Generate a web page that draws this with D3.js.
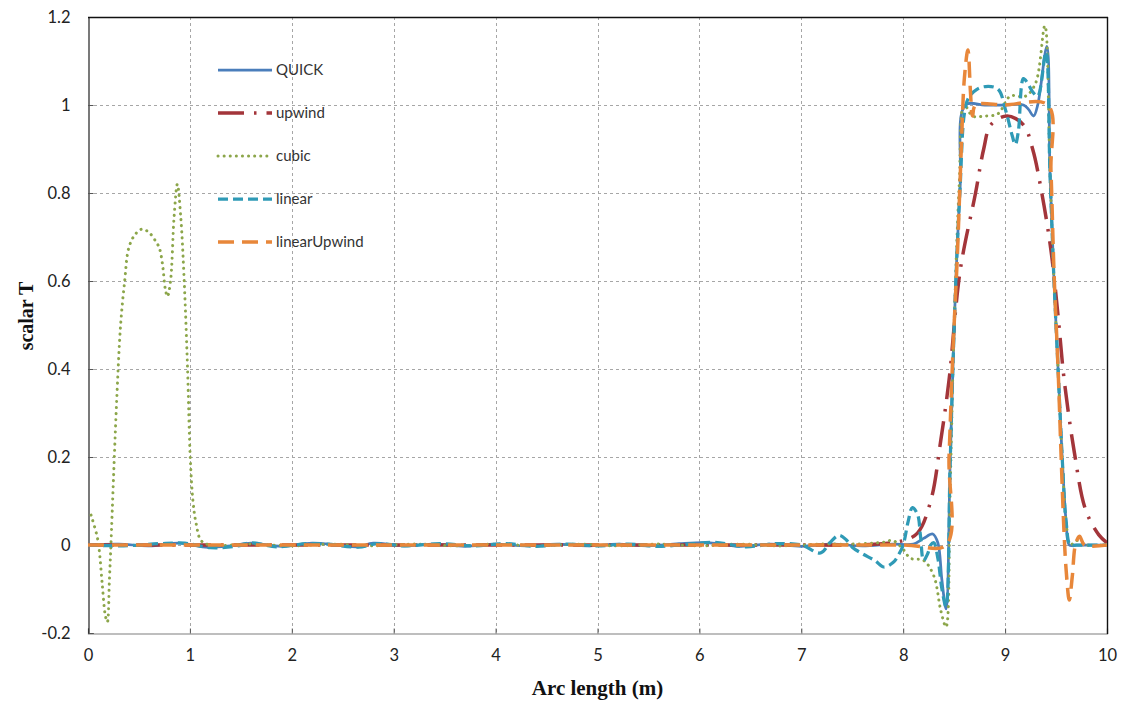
<!DOCTYPE html>
<html>
<head>
<meta charset="utf-8">
<script src="https://cdn.jsdelivr.net/npm/d3@7"></script>
<style>
  html, body { margin: 0; padding: 0; background: #fff; }
  svg { display: block; }
</style>
</head>
<body>
<svg id="chart" width="1126" height="706"></svg>
<script>
// ---- data ----
const xTicks = [0, 1, 2, 3, 4, 5, 6, 7, 8, 9, 10];
const yTicks = [-0.2, 0, 0.2, 0.4, 0.6, 0.8, 1, 1.2];
const yTickLabels = ["-0.2", "0", "0.2", "0.4", "0.6", "0.8", "1", "1.2"];
const seriesNames = ["QUICK", "upwind", "cubic", "linear", "linearUpwind"];

const quick = [
  [0,0],[0.3,0.002],[0.6,-0.002],[0.9,0.004],[1.15,-0.005],[1.4,-0.002],[1.6,0.004],[1.9,-0.003],
  [2.2,0.004],[2.45,0],[2.65,-0.004],[2.8,0.004],[3.1,-0.002],[3.4,0.002],[3.7,-0.003],[4.0,0.002],
  [4.3,-0.002],[4.6,0.002],[4.9,-0.002],[5.2,0.002],[5.5,-0.002],[5.8,0.003],[6.1,0.005],[6.4,-0.003],
  [6.7,0.002],[7.0,-0.003],[7.3,0.002],[7.6,-0.002],[7.9,0.002],[8.1,0.002],[8.2,0.015],[8.29,0.025],
  [8.34,0.005],[8.38,-0.08],[8.42,-0.145],[8.46,0.18],[8.49,0.42],[8.52,0.62],[8.56,0.82],[8.61,1.0],
  [8.8,1.0],[9.0,1.0],[9.18,1.0],[9.23,0.99],[9.28,0.975],[9.32,1.0],[9.41,1.133],[9.44,0.85],
  [9.48,0.6],[9.52,0.4],[9.56,0.2],[9.6,0.05],[9.63,0.0],[9.7,0],[10,0]
];
const upwind = [
  [0,0],[7.0,0],[7.5,0],[7.8,0.003],[8.0,0.01],[8.14,0.027],[8.27,0.1],[8.37,0.24],[8.45,0.375],
  [8.56,0.625],[8.71,0.8],[8.79,0.9],[8.86,0.955],[9.02,0.975],[9.18,0.955],[9.27,0.9],[9.36,0.8],
  [9.45,0.67],[9.52,0.52],[9.58,0.375],[9.68,0.21],[9.79,0.08],[9.92,0.023],[10,0.005]
];
const cubic = [
  [0.03,0.068],[0.09,0.019],[0.11,-0.011],[0.14,-0.09],[0.17,-0.16],[0.19,-0.175],[0.21,-0.08],
  [0.225,0.0],[0.25,0.15],[0.28,0.32],[0.32,0.5],[0.36,0.6],[0.4,0.675],[0.46,0.705],[0.53,0.718],
  [0.6,0.71],[0.665,0.69],[0.7,0.675],[0.73,0.64],[0.76,0.58],[0.78,0.565],[0.81,0.6],[0.845,0.746],
  [0.877,0.82],[0.91,0.746],[0.944,0.6],[0.977,0.4],[1.003,0.2],[1.03,0.1],[1.06,0.05],[1.11,0.01],
  [1.2,0.0],[1.6,0.002],[2.0,-0.002],[2.4,0.002],[2.8,-0.002],[3.2,0.002],[3.6,-0.002],[4.0,0.002],
  [4.4,-0.002],[4.8,0.002],[5.2,-0.002],[5.6,0.002],[6.0,-0.002],[6.4,0.002],[6.8,-0.002],[7.2,0.002],
  [7.5,0.002],[7.8,0.006],[7.9,0.01],[8.0,-0.01],[8.07,-0.03],[8.2,-0.035],[8.3,-0.07],[8.37,-0.15],
  [8.42,-0.186],[8.46,0.12],[8.5,0.5],[8.55,0.82],[8.6,1.0],[8.68,0.975],[8.8,0.975],[8.93,0.98],
  [9.05,1.02],[9.2,1.02],[9.3,1.05],[9.39,1.18],[9.44,0.85],[9.48,0.6],[9.52,0.4],[9.56,0.2],
  [9.6,0.05],[9.64,0.0],[9.7,0.01],[9.8,0],[10,0]
];
const linear = [
  [0,0],[0.35,-0.002],[0.7,0.003],[0.95,0.004],[1.2,-0.006],[1.45,-0.003],[1.6,0.005],[1.85,-0.004],
  [2.15,0.003],[2.35,0.002],[2.65,-0.005],[2.85,0.003],[3.1,-0.002],[3.45,0.003],[3.8,-0.002],[4.1,0.003],
  [4.4,-0.003],[4.7,0.002],[5.0,-0.002],[5.3,0.002],[5.6,-0.003],[5.9,0.002],[6.15,0.006],[6.45,-0.004],
  [6.75,0.003],[7.0,0.0],[7.19,-0.018],[7.28,0.005],[7.37,0.022],[7.44,0.012],[7.5,-0.005],[7.6,-0.02],
  [7.72,-0.035],[7.81,-0.05],[7.9,-0.04],[7.96,-0.02],[8.0,0.0],[8.05,0.055],[8.09,0.085],[8.14,0.07],
  [8.17,0.02],[8.2,-0.035],[8.24,-0.02],[8.27,0.0],[8.3,0.005],[8.34,-0.03],[8.38,-0.1],[8.42,-0.14],
  [8.46,0.18],[8.49,0.42],[8.52,0.62],[8.56,0.82],[8.6,0.98],[8.64,1.016],[8.72,1.035],[8.81,1.042],
  [8.93,1.036],[9.01,0.984],[9.07,0.93],[9.1,0.91],[9.13,0.94],[9.18,1.06],[9.22,1.05],[9.27,1.03],
  [9.32,1.02],[9.4,1.12],[9.44,0.85],[9.48,0.6],[9.52,0.4],[9.56,0.2],[9.6,0.05],[9.64,0.0],
  [9.7,0.0],[10,0]
];
const linearUpwind = [
  [0,0],[8.0,0],[8.42,0],[8.45,0.2],[8.49,0.45],[8.53,0.65],[8.57,0.9],[8.6,1.06],[8.635,1.125],
  [8.66,1.03],[8.68,0.975],[8.71,1.0],[9.0,1.0],[9.42,1.0],[9.45,0.85],[9.48,0.62],[9.52,0.4],
  [9.55,0.2],[9.58,0.02],[9.6,-0.06],[9.63,-0.125],[9.66,-0.07],[9.69,0.0],[9.73,0.02],[9.78,0.0],[10,0]
];

// ---- styles ----
const styles = {
  QUICK:        { color: "#4a7ebb", width: 2.75, dash: null,          cap: "butt" },
  upwind:       { color: "#a3353a", width: 3.5,  dash: "26,10,2.5,10", cap: "butt" },
  cubic:        { color: "#8ca64a", width: 3,    dash: "0.1,6",        cap: "round" },
  linear:       { color: "#2f9ab6", width: 3.25, dash: "10,5",         cap: "butt" },
  linearUpwind: { color: "#e8873a", width: 3.5,  dash: "16,8",         cap: "butt" }
};
const seriesData = { QUICK: quick, upwind: upwind, cubic: cubic, linear: linear, linearUpwind: linearUpwind };

// ---- layout ----
const svg = d3.select("#chart");
const L = 88, R = 1107, T = 17, B = 633;
const x = d3.scaleLinear().domain([0, 10]).range([L, R]);
const y = d3.scaleLinear().domain([-0.2, 1.2]).range([B, T]);

// gridlines
const grid = svg.append("g").attr("stroke", "#a6a6a6").attr("stroke-width", 1)
  .attr("stroke-dasharray", "3,3");
grid.selectAll("line.v").data(xTicks.filter(d => d > 0 && d < 10)).enter().append("line")
  .attr("x1", d => Math.round(x(d)) + 0.5).attr("x2", d => Math.round(x(d)) + 0.5)
  .attr("y1", T).attr("y2", B);
grid.selectAll("line.h").data(yTicks.filter(d => d > -0.2 && d < 1.2)).enter().append("line")
  .attr("y1", d => Math.round(y(d)) + 0.5).attr("y2", d => Math.round(y(d)) + 0.5)
  .attr("x1", L).attr("x2", R);

// axes
const fontSans = "Lato, 'Open Sans', sans-serif";
const xAxis = d3.axisBottom(x).tickValues(xTicks).tickSize(-5).tickPadding(16).tickFormat(d3.format("d"));
const gx = svg.append("g").attr("transform", `translate(0,${B + 0.5})`).call(xAxis);
gx.select(".domain").attr("stroke", "#7f7f7f").attr("stroke-width", 1.2);
gx.selectAll(".tick line").attr("stroke", "#555");
gx.selectAll("text").attr("font-family", fontSans).attr("font-size", 16.5).attr("fill", "#222");

const yAxis = d3.axisLeft(y).tickValues(yTicks).tickSize(-5).tickPadding(18)
  .tickFormat((d, i) => yTickLabels[i]);
const gy = svg.append("g").attr("transform", `translate(${L + 0.5},0)`).call(yAxis);
gy.select(".domain").attr("stroke", "#222").attr("stroke-width", 1.2);
gy.selectAll(".tick line").attr("stroke", "#555");
gy.selectAll("text").attr("font-family", fontSans).attr("font-size", 16.5).attr("fill", "#222");

// frame top / right
svg.append("line").attr("x1", L).attr("x2", R + 1).attr("y1", T + 0.5).attr("y2", T + 0.5)
  .attr("stroke", "#111").attr("stroke-width", 1.4);
svg.append("line").attr("x1", R + 0.5).attr("x2", R + 0.5).attr("y1", T).attr("y2", B + 1)
  .attr("stroke", "#111").attr("stroke-width", 1.4);

// clip
svg.append("clipPath").attr("id", "plotclip").append("rect")
  .attr("x", L).attr("y", T - 6).attr("width", R - L).attr("height", B - T + 6);

// lines
const line = d3.line().x(d => x(d[0])).y(d => y(d[1])).curve(d3.curveCatmullRom.alpha(0.5));
const plot = svg.append("g").attr("clip-path", "url(#plotclip)");
seriesNames.forEach(name => {
  const s = styles[name];
  plot.append("path").datum(seriesData[name])
    .attr("d", line)
    .attr("fill", "none")
    .attr("stroke", s.color)
    .attr("stroke-width", s.width)
    .attr("stroke-linecap", s.cap)
    .attr("stroke-linejoin", "round")
    .attr("stroke-dasharray", s.dash);
});

// legend
const legendY = [70, 113, 156, 199, 242];
const lg = svg.append("g");
seriesNames.forEach((name, i) => {
  const s = styles[name];
  lg.append("line").attr("x1", 218).attr("x2", 272).attr("y1", legendY[i]).attr("y2", legendY[i])
    .attr("stroke", s.color).attr("stroke-width", s.width)
    .attr("stroke-linecap", s.cap).attr("stroke-dasharray", s.dash);
  lg.append("text").attr("x", 276).attr("y", legendY[i]).attr("dy", "0.35em")
    .attr("font-family", fontSans).attr("font-size", 15).attr("fill", "#333").text(name);
});

// axis titles
svg.append("text").attr("x", (L + R) / 2).attr("y", 695).attr("text-anchor", "middle")
  .attr("font-family", "'Liberation Serif', 'Times New Roman', serif").attr("font-weight", "bold")
  .attr("font-size", 21).attr("fill", "#111").text("Arc length (m)");
svg.append("text").attr("transform", "translate(33,316) rotate(-90)").attr("text-anchor", "middle")
  .attr("font-family", "'Liberation Serif', 'Times New Roman', serif").attr("font-weight", "bold")
  .attr("font-size", 20).attr("fill", "#111").text("scalar T");
</script>
</body>
</html>
